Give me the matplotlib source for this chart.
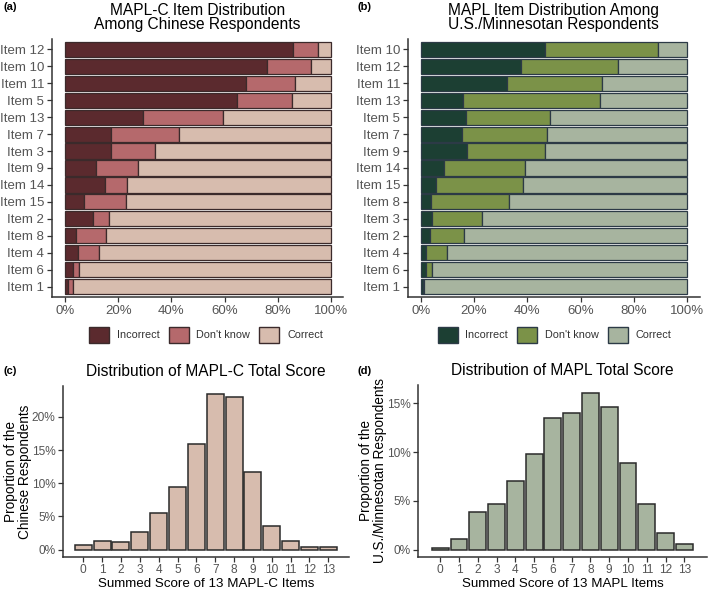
import matplotlib
matplotlib.use("Agg")
import matplotlib.pyplot as plt
from matplotlib.patches import Patch
from matplotlib.ticker import FuncFormatter
import numpy as np

plt.rcParams['font.family'] = ['Liberation Sans', 'DejaVu Sans']

# ---------------- data ----------------
cn_items = ["Item 12", "Item 10", "Item 11", "Item 5", "Item 13", "Item 7", "Item 3",
            "Item 9", "Item 14", "Item 15", "Item 2", "Item 8", "Item 4", "Item 6", "Item 1"]
cn_incorrect = [85.6, 75.8, 68.0, 64.5, 29.4, 17.4, 17.4, 11.8, 14.9, 7.0, 10.6, 4.3, 4.9, 3.1, 1.0]
cn_dontknow = [9.4, 16.8, 18.6, 20.8, 30.1, 25.3, 16.5, 15.6, 8.3, 15.9, 6.1, 11.1, 7.8, 2.0, 1.9]

us_items = ["Item 10", "Item 12", "Item 11", "Item 13", "Item 5", "Item 7", "Item 9",
            "Item 14", "Item 15", "Item 8", "Item 3", "Item 2", "Item 4", "Item 6", "Item 1"]
us_incorrect = [46.6, 37.6, 32.5, 15.7, 16.9, 15.4, 17.5, 8.7, 5.7, 4.0, 4.4, 3.6, 2.0, 2.0, 0.9]
us_dontknow = [42.3, 36.3, 35.4, 51.5, 31.5, 32.1, 29.1, 30.5, 32.7, 29.0, 18.6, 12.5, 7.8, 2.4, 0.5]

scores = list(range(14))
cn_score_pct = [0.7, 1.3, 1.1, 2.7, 5.5, 9.5, 15.9, 23.5, 23.0, 11.7, 3.5, 1.3, 0.35, 0.35]
us_score_pct = [0.2, 1.1, 3.9, 4.7, 7.0, 9.8, 13.5, 14.0, 16.0, 14.6, 8.9, 4.7, 1.7, 0.55]

legend_labels = ["Incorrect", "Don't know", "Correct"]

cn_colors = ["#5b2a2e", "#b5696c", "#d7bcae"]
us_colors = ["#1c3f33", "#7b9248", "#a7b49f"]
cn_edge = "#3b2a2b"
us_edge = "#2c3a46"

TICK_COL = "#555555"
SPINE_COL = "#333333"

fig = plt.figure(figsize=(7.09, 5.89), dpi=100)
W, H = 709, 589


def axes_px(left, top, right, bottom):
    return fig.add_axes([left / W, 1 - bottom / H, (right - left) / W, (bottom - top) / H])


def style(ax):
    for s in ["top", "right"]:
        ax.spines[s].set_visible(False)
    for s in ["left", "bottom"]:
        ax.spines[s].set_color(SPINE_COL)
        ax.spines[s].set_linewidth(1.1)
    ax.tick_params(colors=TICK_COL, length=3.5, width=0.9, labelsize=9, pad=2)
    ax.tick_params(axis='both', color=SPINE_COL)


def stacked(ax, items, inc, dk, colors, edge, xlim):
    n = len(items)
    y = np.arange(n)[::-1]
    inc = np.array(inc)
    dk = np.array(dk)
    cor = 100 - inc - dk
    ax.barh(y, inc, height=0.9, color=colors[0], edgecolor=edge, linewidth=0.9)
    ax.barh(y, dk, left=inc, height=0.9, color=colors[1], edgecolor=edge, linewidth=0.9)
    ax.barh(y, cor, left=inc + dk, height=0.9, color=colors[2], edgecolor=edge, linewidth=0.9)
    ax.set_yticks(y)
    ax.set_yticklabels(items)
    ax.set_ylim(-0.62, n - 1 + 0.62)
    ax.set_xlim(*xlim)
    ax.set_xticks([0, 20, 40, 60, 80, 100])
    ax.xaxis.set_major_formatter(FuncFormatter(lambda v, p: f"{v:.0f}%"))
    style(ax)
    ax.tick_params(axis='x', labelsize=9.5)
    ax.tick_params(axis='y', labelsize=9.5)


# (a)
axa = axes_px(52, 39, 343, 297)
stacked(axa, cn_items, cn_incorrect, cn_dontknow, cn_colors, cn_edge, (-4.9, 104.5))
axa.set_title("MAPL-C Item Distribution\nAmong Chinese Respondents", fontsize=11.2,
              pad=7, linespacing=0.95)
handles = [Patch(facecolor=c, edgecolor=cn_edge, linewidth=1.0) for c in cn_colors]
fig.legend(handles, legend_labels, ncol=3, loc="center", bbox_to_anchor=(206 / W, 1 - 335 / H),
           frameon=False, fontsize=7.8, handlelength=1.85, handleheight=1.85,
           handletextpad=0.7, columnspacing=0.85, labelcolor="#333333")

# (b)
axb = axes_px(407.7, 39, 700, 297)
stacked(axb, us_items, us_incorrect, us_dontknow, us_colors, us_edge, (-4.9, 104.8))
axb.set_title("MAPL Item Distribution Among\nU.S./Minnesotan Respondents", fontsize=11.2,
              pad=7, linespacing=0.95)
handles = [Patch(facecolor=c, edgecolor=us_edge, linewidth=1.0) for c in us_colors]
fig.legend(handles, legend_labels, ncol=3, loc="center", bbox_to_anchor=(554.5 / W, 1 - 335 / H),
           frameon=False, fontsize=7.8, handlelength=1.85, handleheight=1.85,
           handletextpad=0.7, columnspacing=0.85, labelcolor="#333333")


def hist(ax, vals, color, xlim, ylim, yticks, title, xlabel, ylabel):
    ax.bar(scores, vals, width=0.9, color=color, edgecolor="#2a2a2a", linewidth=1.1)
    ax.set_xlim(*xlim)
    ax.set_ylim(*ylim)
    ax.set_xticks(scores)
    ax.set_yticks(yticks)
    ax.yaxis.set_major_formatter(FuncFormatter(lambda v, p: f"{v:.0f}%"))
    style(ax)
    ax.tick_params(labelsize=8.6)
    ax.set_title(title, fontsize=11.2, pad=7)
    ax.set_xlabel(xlabel, fontsize=9.6, labelpad=1)
    ax.set_ylabel(ylabel, fontsize=9.8, labelpad=0, linespacing=0.95)


axc = axes_px(63.3, 386, 349, 556.7)
hist(axc, cn_score_pct, "#d7bcae", (-1.06, 14.1), (-1.06, 24.67), [0, 5, 10, 15, 20],
     "Distribution of MAPL-C Total Score", "Summed Score of 13 MAPL-C Items",
     "Proportion of the\nChinese Respondents")

axd = axes_px(418.3, 385, 706.7, 556.7)
hist(axd, us_score_pct, "#a7b49f", (-1.17, 14.19), (-0.72, 16.87), [0, 5, 10, 15],
     "Distribution of MAPL Total Score", "Summed Score of 13 MAPL Items",
     "Proportion of the\nU.S./Minnesotan Respondents")

# panel letters
for lab, x, y in [("(a)", 3, 7), ("(b)", 358, 7), ("(c)", 3, 371), ("(d)", 358, 371)]:
    fig.text(x / W, 1 - y / H, lab, fontsize=8, fontweight="bold", va="center", ha="left")

fig.savefig("out.png", dpi=100)
